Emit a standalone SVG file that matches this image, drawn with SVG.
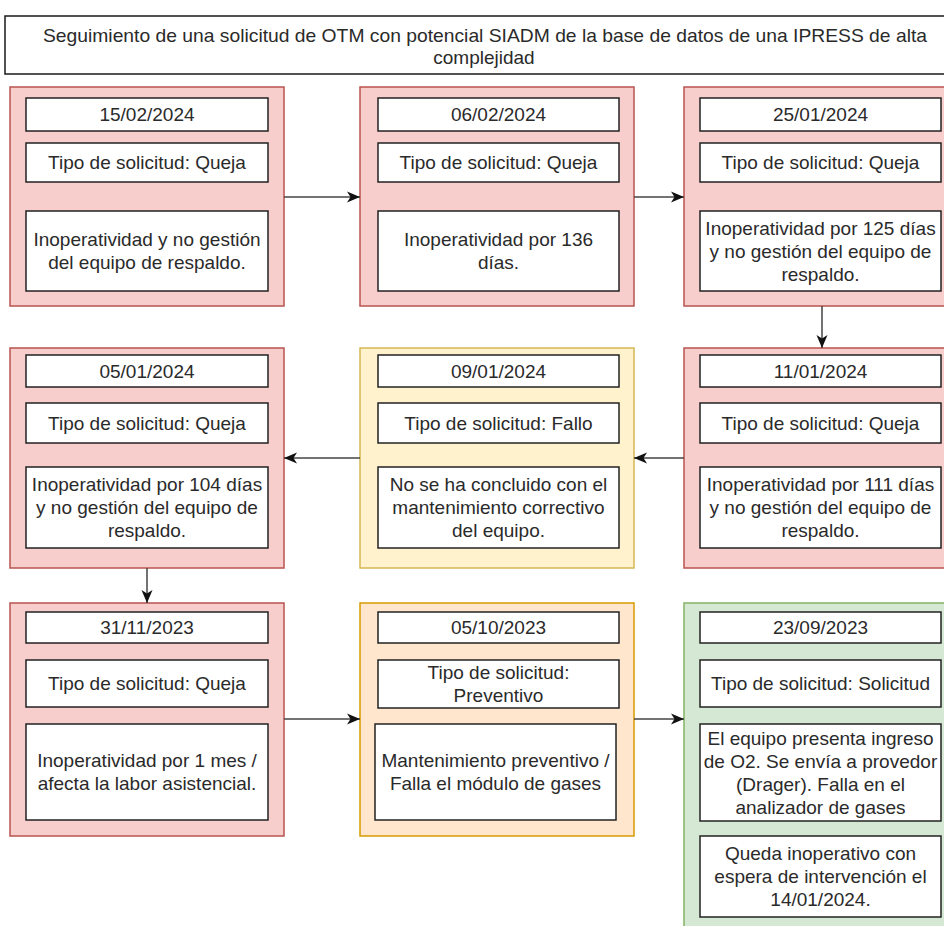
<svg xmlns="http://www.w3.org/2000/svg" width="944" height="926" viewBox="0 0 944 926">
  <style>
    .bg { fill: #ffffff; }
    .title { fill: #ffffff; stroke: #1a1a1a; stroke-width: 1.5; }
    .red { fill: #f8cecc; stroke: #b85450; stroke-width: 1.5; }
    .yellow { fill: #fff2cc; stroke: #d6b656; stroke-width: 1.5; }
    .orange { fill: #ffe6cc; stroke: #d79b00; stroke-width: 1.5; }
    .green { fill: #d5e8d4; stroke: #82b366; stroke-width: 1.5; }
    .cell { fill: #ffffff; stroke: #222222; stroke-width: 1.5; }
    text { font-family: "Liberation Sans", Arial, Helvetica, sans-serif; font-size: 19px; fill: #2a2a2a; text-anchor: middle; }
    .edge { fill: none; stroke: #444444; stroke-width: 1.5; }
  </style>
  <defs>
    <marker id="arrow" markerUnits="userSpaceOnUse" markerWidth="14" markerHeight="12" refX="13" refY="6" orient="auto">
      <path d="M0,0.5 L13,6 L0,11.5 L3.5,6 Z" fill="#111111"/>
    </marker>
  </defs>

  <rect class="bg" x="0" y="0" width="944" height="926"/>

  <!-- Title -->
  <g id="title">
    <rect class="title" x="5" y="16" width="960" height="58"/>
    <text x="485" y="41.5" textLength="884" lengthAdjust="spacingAndGlyphs">Seguimiento de una solicitud de OTM con potencial SIADM de la base de datos de una IPRESS de alta</text>
    <text x="484" y="64">complejidad</text>
  </g>

  <!-- Row 1 -->
  <g id="n-15-02-2024">
    <rect class="red" x="10" y="87" width="274" height="219"/>
    <rect class="cell" x="26" y="98" width="242" height="33"/>
    <text x="147" y="121">15/02/2024</text>
    <rect class="cell" x="26" y="143" width="242" height="39"/>
    <text x="147" y="169">Tipo de solicitud: Queja</text>
    <rect class="cell" x="26" y="211" width="242" height="80"/>
    <text x="147" y="246">Inoperatividad y no gestión</text>
    <text x="147" y="269">del equipo de respaldo.</text>
  </g>

  <g id="n-06-02-2024">
    <rect class="red" x="360" y="87" width="274" height="219"/>
    <rect class="cell" x="378" y="98" width="241" height="33"/>
    <text x="498.5" y="121">06/02/2024</text>
    <rect class="cell" x="378" y="143" width="241" height="39"/>
    <text x="498.5" y="169">Tipo de solicitud: Queja</text>
    <rect class="cell" x="378" y="211" width="241" height="80"/>
    <text x="498.5" y="246">Inoperatividad por 136</text>
    <text x="498.5" y="269">días.</text>
  </g>

  <g id="n-25-01-2024">
    <rect class="red" x="684" y="87" width="270" height="219"/>
    <rect class="cell" x="700" y="98" width="241" height="33"/>
    <text x="820.5" y="121">25/01/2024</text>
    <rect class="cell" x="700" y="143" width="241" height="39"/>
    <text x="820.5" y="169">Tipo de solicitud: Queja</text>
    <rect class="cell" x="700" y="211" width="241" height="80"/>
    <text x="820.5" y="234.5">Inoperatividad por 125 días</text>
    <text x="820.5" y="257.5">y no gestión del equipo de</text>
    <text x="820.5" y="280.5">respaldo.</text>
  </g>

  <!-- Row 2 -->
  <g id="n-05-01-2024">
    <rect class="red" x="10" y="348" width="274" height="220"/>
    <rect class="cell" x="26" y="355" width="242" height="32"/>
    <text x="147" y="377.5">05/01/2024</text>
    <rect class="cell" x="26" y="403" width="242" height="40"/>
    <text x="147" y="429.5">Tipo de solicitud: Queja</text>
    <rect class="cell" x="26" y="467" width="242" height="81"/>
    <text x="147" y="491">Inoperatividad por 104 días</text>
    <text x="147" y="514">y no gestión del equipo de</text>
    <text x="147" y="537">respaldo.</text>
  </g>

  <g id="n-09-01-2024">
    <rect class="yellow" x="360" y="348" width="274" height="220"/>
    <rect class="cell" x="378" y="355" width="241" height="32"/>
    <text x="498.5" y="377.5">09/01/2024</text>
    <rect class="cell" x="378" y="403" width="241" height="40"/>
    <text x="498.5" y="429.5">Tipo de solicitud: Fallo</text>
    <rect class="cell" x="378" y="467" width="241" height="81"/>
    <text x="498.5" y="491">No se ha concluido con el</text>
    <text x="498.5" y="514">mantenimiento correctivo</text>
    <text x="498.5" y="537">del equipo.</text>
  </g>

  <g id="n-11-01-2024">
    <rect class="red" x="684" y="348" width="270" height="220"/>
    <rect class="cell" x="700" y="355" width="241" height="32"/>
    <text x="820.5" y="377.5">11/01/2024</text>
    <rect class="cell" x="700" y="403" width="241" height="40"/>
    <text x="820.5" y="429.5">Tipo de solicitud: Queja</text>
    <rect class="cell" x="700" y="467" width="241" height="81"/>
    <text x="820.5" y="491">Inoperatividad por 111 días</text>
    <text x="820.5" y="514">y no gestión del equipo de</text>
    <text x="820.5" y="537">respaldo.</text>
  </g>

  <!-- Row 3 -->
  <g id="n-31-11-2023">
    <rect class="red" x="10" y="603" width="274" height="233"/>
    <rect class="cell" x="26" y="612" width="242" height="31"/>
    <text x="147" y="634">31/11/2023</text>
    <rect class="cell" x="26" y="660" width="242" height="47"/>
    <text x="147" y="690">Tipo de solicitud: Queja</text>
    <rect class="cell" x="26" y="724" width="242" height="96"/>
    <text x="147" y="767">Inoperatividad por 1 mes /</text>
    <text x="147" y="790">afecta la labor asistencial.</text>
  </g>

  <g id="n-05-10-2023">
    <rect class="orange" x="360" y="603" width="274" height="233"/>
    <rect class="cell" x="378" y="612" width="241" height="31"/>
    <text x="498.5" y="634">05/10/2023</text>
    <rect class="cell" x="378" y="660" width="241" height="48"/>
    <text x="498.5" y="678.5">Tipo de solicitud:</text>
    <text x="498.5" y="701.5">Preventivo</text>
    <rect class="cell" x="375" y="724" width="241" height="96"/>
    <text x="495.5" y="767">Mantenimiento preventivo /</text>
    <text x="495.5" y="790">Falla el módulo de gases</text>
  </g>

  <g id="n-23-09-2023">
    <rect class="green" x="684" y="603" width="270" height="340"/>
    <rect class="cell" x="700" y="612" width="241" height="31"/>
    <text x="820.5" y="634">23/09/2023</text>
    <rect class="cell" x="700" y="660" width="241" height="47"/>
    <text x="820.5" y="690">Tipo de solicitud: Solicitud</text>
    <rect class="cell" x="700" y="724" width="241" height="97"/>
    <text x="820.5" y="744.5">El equipo presenta ingreso</text>
    <text x="820.5" y="767.5">de O2. Se envía a provedor</text>
    <text x="820.5" y="790.5">(Drager). Falla en el</text>
    <text x="820.5" y="813.5">analizador de gases</text>
    <rect class="cell" x="700" y="836" width="241" height="81"/>
    <text x="820.5" y="860">Queda inoperativo con</text>
    <text x="820.5" y="883">espera de intervención el</text>
    <text x="820.5" y="906">14/01/2024.</text>
  </g>

  <!-- Connectors -->
  <g id="connectors">
    <line class="edge" x1="284" y1="197" x2="360" y2="197" marker-end="url(#arrow)"/>
    <line class="edge" x1="634" y1="197" x2="684" y2="197" marker-end="url(#arrow)"/>
    <line class="edge" x1="822" y1="306" x2="822" y2="348" marker-end="url(#arrow)"/>
    <line class="edge" x1="684" y1="458" x2="634" y2="458" marker-end="url(#arrow)"/>
    <line class="edge" x1="360" y1="458" x2="284" y2="458" marker-end="url(#arrow)"/>
    <line class="edge" x1="147" y1="568" x2="147" y2="603" marker-end="url(#arrow)"/>
    <line class="edge" x1="284" y1="719" x2="360" y2="719" marker-end="url(#arrow)"/>
    <line class="edge" x1="634" y1="719" x2="684" y2="719" marker-end="url(#arrow)"/>
  </g>
</svg>
